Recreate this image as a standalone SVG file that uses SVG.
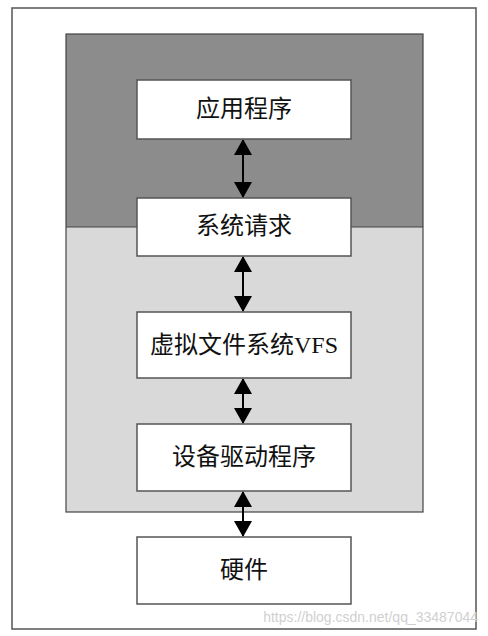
<svg xmlns="http://www.w3.org/2000/svg" width="488" height="636" viewBox="0 0 488 636">
<style>
.box{fill:#fff;stroke:#555;stroke-width:1.5}
.lbl{font-family:"Liberation Serif","Noto Sans CJK SC",serif;font-size:24px;fill:#111;text-anchor:middle;dominant-baseline:central}
.con{stroke:#000;stroke-width:2;fill:none;marker-start:url(#ah);marker-end:url(#ah)}
</style>
<defs>
<marker id="ah" viewBox="0 0 16 18" refX="15" refY="9" markerWidth="16" markerHeight="18" markerUnits="userSpaceOnUse" orient="auto-start-reverse">
<path d="M0,0 L16,9 L0,18 Z" fill="#000"/>
</marker>
</defs>
<rect x="0" y="0" width="488" height="636" fill="#fff"/>
<rect x="12" y="8" width="464" height="621" fill="#fff" stroke="#555" stroke-width="1.5"/>
<rect x="66" y="34" width="357" height="193" fill="#8c8c8c"/>
<rect x="66" y="227" width="357" height="285" fill="#d9d9d9"/>
<rect x="66" y="34" width="357" height="478" fill="none" stroke="#444" stroke-width="1.2"/>
<line x1="66" y1="227" x2="423" y2="227" stroke="#444" stroke-width="1"/>
<g id="connectors">
<line class="con" x1="243" y1="140" x2="243" y2="197"/>
<line class="con" x1="243" y1="257" x2="243" y2="311"/>
<line class="con" x1="243" y1="379" x2="243" y2="423"/>
<line class="con" x1="243" y1="492" x2="243" y2="536"/>
</g>
<g id="app"><rect class="box" x="137" y="80" width="214" height="59"/><text class="lbl" x="244" y="109">应用程序</text></g>
<g id="syscall"><rect class="box" x="137" y="198" width="214" height="58"/><text class="lbl" x="244" y="226">系统请求</text></g>
<g id="vfs"><rect class="box" x="137" y="312" width="214" height="66"/><text class="lbl" x="244" y="345">虚拟文件系统VFS</text></g>
<g id="driver"><rect class="box" x="137" y="424" width="214" height="67"/><text class="lbl" x="244" y="457">设备驱动程序</text></g>
<g id="hw"><rect class="box" x="137" y="537" width="214" height="67"/><text class="lbl" x="244" y="570">硬件</text></g>
<text x="478" y="622" font-family="Liberation Sans,Arial,sans-serif" font-size="14" fill="#d0d0d0" text-anchor="end">https://blog.csdn.net/qq_33487044</text>
</svg>
